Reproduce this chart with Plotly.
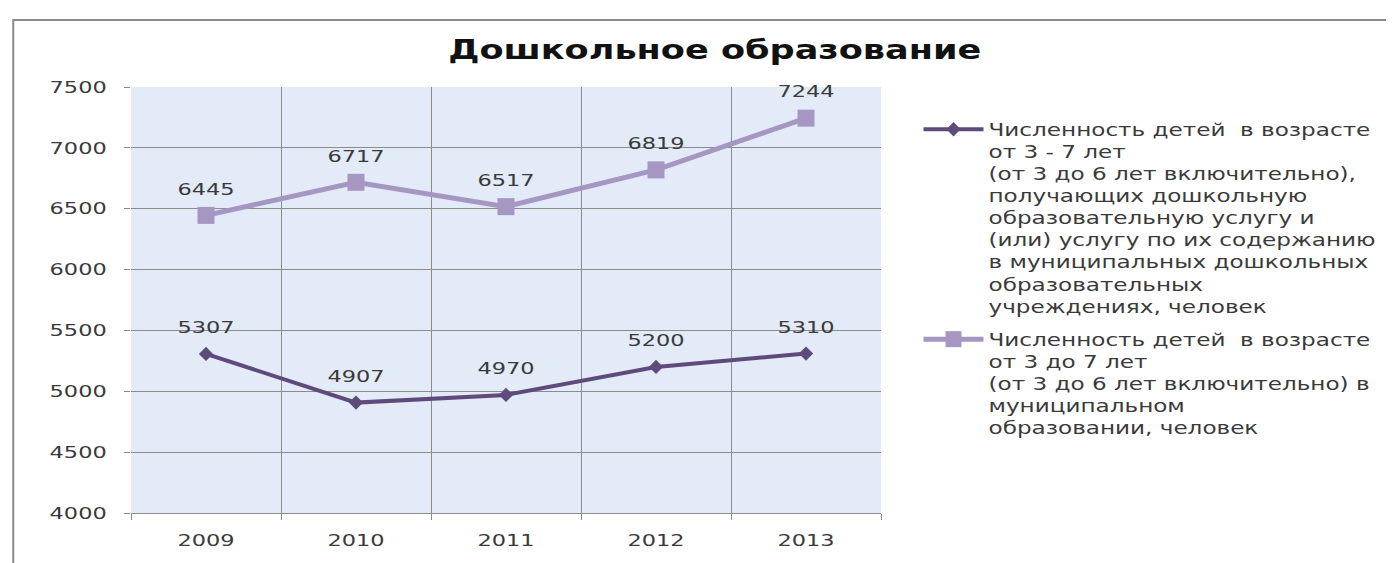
import plotly.graph_objects as go

years = [2009, 2010, 2011, 2012, 2013]
enrolled = [5307, 4907, 4970, 5200, 5310]
total_children = [6445, 6717, 6517, 6819, 7244]
cat_edges = [2008.5, 2009.5, 2010.5, 2011.5, 2012.5, 2013.5]
y_ticks = [4000, 4500, 5000, 5500, 6000, 6500, 7000, 7500]

name1 = ("Численность детей  в возрасте<br>от 3 - 7 лет<br>(от 3 до 6 лет включительно),"
         "<br>получающих дошкольную<br>образовательную услугу и<br>(или) услугу по их содержанию"
         "<br>в муниципальных дошкольных<br>образовательных<br>учреждениях, человек")
name2 = ("Численность детей  в возрасте<br>от 3 до 7 лет<br>(от 3 до 6 лет включительно) в"
         "<br>муниципальном<br>образовании, человек")

FONT = "DejaVu Sans"
TXT = "#3a3a3a"

fig = go.Figure()
fig.add_trace(go.Scatter(
    x=years, y=enrolled, name=name1, legendgroup="a", mode="lines+markers+text",
    line=dict(color="#5f4a7c", width=4),
    marker=dict(symbol="diamond", size=11, color="#5f4a7c"),
    text=[str(v) for v in enrolled], textposition="top center", cliponaxis=False,
    textfont=dict(family=FONT, size=16.5, color=TXT),
))
fig.add_trace(go.Scatter(
    x=years, y=total_children, name=name2, legendgroup="b", mode="lines+markers+text",
    line=dict(color="#a596c2", width=5),
    marker=dict(symbol="square", size=17, color="#a596c2"),
    text=[str(v) for v in total_children], textposition="top center", cliponaxis=False,
    textfont=dict(family=FONT, size=16.5, color=TXT),
))

fig.update_layout(
    width=1394, height=563,
    margin=dict(l=123, r=521, t=79, b=58),
    paper_bgcolor="white",
    plot_bgcolor="#e2ebf7",
    title=dict(text="<b>Дошкольное образование</b>", x=0.507, xanchor="center",
               y=0.925, yanchor="middle",
               font=dict(family=FONT, size=26, color="#111111")),
    font=dict(family=FONT, color=TXT),
    showlegend=True,
    legend=dict(x=1.05, y=0.942, xanchor="left", yanchor="top", valign="top",
                font=dict(family=FONT, size=17, color=TXT), tracegroupgap=8,
                bgcolor="rgba(0,0,0,0)", itemwidth=60),
    xaxis=dict(
        range=[2008.5, 2013.5], tickvals=years, ticktext=[str(y) for y in years],
        showgrid=False, ticks="", showline=True, linecolor="#8c8c8c", linewidth=1,
        tickfont=dict(family=FONT, size=16.5, color=TXT), ticklabelstandoff=12,
        zeroline=False,
        minor=dict(tickvals=cat_edges, showgrid=True, gridcolor="#8c8c8c", gridwidth=1,
                   ticks="outside", ticklen=6, tickcolor="#8c8c8c"),
    ),
    yaxis=dict(
        range=[4000, 7500], tickvals=y_ticks, showgrid=True, gridcolor="#8c8c8c",
        gridwidth=1, ticks="outside", ticklen=6, tickcolor="#8c8c8c",
        zeroline=False, showline=False, ticklabelstandoff=14,
        tickfont=dict(family=FONT, size=16.5, color=TXT),
    ),
    shapes=[dict(type="rect", xref="paper", yref="paper",
                 x0=-0.157, x1=1.8, y0=-0.5, y1=1.157,
                 line=dict(color="#8a8a8a", width=2), fillcolor="rgba(0,0,0,0)",
                 layer="below")],
)

# The reference text is horizontally stretched: scale glyphs in x about their anchor.
post = """
var gd = document.getElementById('{plot_id}');
function sxe(e, s, dy) {
  var x = parseFloat(e.getAttribute('x')) || 0;
  var t = e.getAttribute('transform') || '';
  e.setAttribute('transform', t + ' translate(' + x + ',' + (dy || 0) + ') scale(' + s + ',1) translate(' + (-x) + ',0)');
}
function sx(sel, s, dy) {
  gd.querySelectorAll(sel).forEach(function(e){ sxe(e, s, dy); });
}
sx('.ytick text', 1.36);
sx('.xtick text', 1.36);
sx('.legendtext', 1.36);
sx('.gtitle', 1.35);
var tr = gd.querySelectorAll('.scatterlayer .trace');
var shifts = [-9, -5];
tr.forEach(function(g, i){
  g.querySelectorAll('.textpoint text').forEach(function(e){ sxe(e, 1.36, shifts[i] || 0); });
});
var lg = gd.querySelectorAll('.legend, .legend *');
lg.forEach(function(e){ if (e.hasAttribute('clip-path')) e.removeAttribute('clip-path'); });
"""

fig.write_html("out.html", post_script=post)
